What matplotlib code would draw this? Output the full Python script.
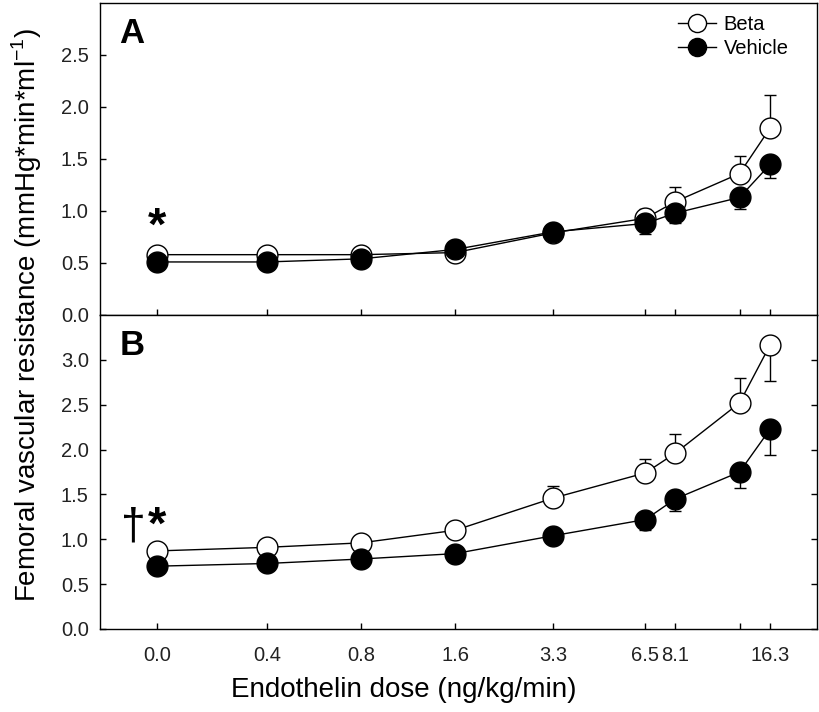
import numpy as np
import matplotlib.pyplot as plt
from matplotlib.ticker import FixedLocator, NullLocator

plt.rcParams['font.family'] = ['Liberation Sans', 'DejaVu Sans']

# dose axis (ng/kg/min); the zero dose is drawn at a stand-in position on the log axis
doses = [0.0, 0.4, 0.8, 1.6, 3.3, 6.5, 8.1, 13.0, 16.3]
dose_labels = ['0.0', '0.4', '0.8', '1.6', '3.3', '6.5', '8.1', '', '16.3']
zero_pos = 0.178

# panel A
a_beta = [0.58, 0.58, 0.58, 0.60, 0.79, 0.93, 1.09, 1.36, 1.80]
a_beta_up = [0.03, 0.03, 0.03, 0.03, 0.03, 0.09, 0.14, 0.17, 0.32]
a_beta_dn = [0, 0, 0, 0, 0, 0, 0, 0, 0]
a_veh = [0.51, 0.51, 0.54, 0.63, 0.80, 0.88, 0.98, 1.13, 1.45]
a_veh_dn = [0.03, 0.03, 0.03, 0.03, 0.03, 0.10, 0.10, 0.11, 0.13]

# panel B
b_beta = [0.87, 0.91, 0.96, 1.10, 1.46, 1.74, 1.96, 2.52, 3.17]
b_beta_up = [0.03, 0.03, 0.03, 0.03, 0.13, 0.16, 0.21, 0.28, 0]
b_beta_dn = [0, 0, 0, 0, 0, 0, 0, 0, 0.41]
b_veh = [0.70, 0.73, 0.78, 0.84, 1.04, 1.22, 1.45, 1.75, 2.23]
b_veh_dn = [0.03, 0.03, 0.03, 0.03, 0.03, 0.12, 0.14, 0.18, 0.29]

xpos = [zero_pos if d == 0 else d for d in doses]


def panel(ax, beta, beta_dn, beta_up, veh, veh_dn, ymax, yticks, letter):
    eb1 = ax.errorbar(xpos, beta, yerr=[beta_dn, beta_up], fmt='-o', color='black',
                      mfc='white', mec='black', ms=15, mew=1.0, lw=1.0,
                      elinewidth=1.0, capsize=4.5, capthick=1.0, zorder=3)
    eb2 = ax.errorbar(xpos, veh, yerr=[veh_dn, [0] * len(veh)], fmt='-o', color='black',
                      mfc='black', mec='black', ms=15, mew=1.0, lw=1.0,
                      elinewidth=1.0, capsize=4.5, capthick=1.0, zorder=4)
    ax.set_xscale('log', base=2)
    ax.set_xlim(0.117, 23.0)
    ax.xaxis.set_major_locator(FixedLocator(xpos))
    ax.xaxis.set_minor_locator(NullLocator())
    ax.set_ylim(0, ymax)
    ax.set_yticks(yticks)
    ax.set_yticklabels(['%.1f' % t for t in yticks])
    ax.tick_params(direction='in', length=4, width=1, labelsize=14.5,
                   labelcolor='#222222')
    ax.tick_params(axis='y', pad=8)
    for s in ax.spines.values():
        s.set_linewidth(1.0)
    ax.text(0.027, 0.955, letter, transform=ax.transAxes, fontsize=25,
            fontweight='bold', va='top', ha='left')
    return eb1.lines[0], eb2.lines[0]


fig = plt.figure(figsize=(8.19, 7.12), dpi=100)
ax1 = fig.add_axes([0.122, 0.5576, 0.8756, 0.4382])
ax2 = fig.add_axes([0.122, 0.1166, 0.8756, 0.4410])

h_beta, h_veh = panel(ax1, a_beta, a_beta_dn, a_beta_up, a_veh, a_veh_dn, 3.0,
                      [0.0, 0.5, 1.0, 1.5, 2.0, 2.5], 'A')
ax1.set_xticklabels([])
ax1.text(zero_pos, 0.84, '*', fontsize=34, fontweight='bold', ha='center', va='center')
ax1.legend([h_beta, h_veh], ['Beta', 'Vehicle'], loc='upper right', frameon=False,
           fontsize=14.5, handlelength=1.9, handletextpad=0.35, labelspacing=0.25,
           markerscale=0.87, borderaxespad=0.2, bbox_to_anchor=(0.977, 1.0))

panel(ax2, b_beta, b_beta_dn, b_beta_up, b_veh, b_veh_dn, 3.5,
      [0.0, 0.5, 1.0, 1.5, 2.0, 2.5, 3.0], 'B')
ax2.set_xticklabels(dose_labels)
ax2.tick_params(axis='x', pad=12)
ax2.tick_params(axis='y', right=True)
ax2.annotate('\u2020', (zero_pos, 1.14), xytext=(-17, 0), textcoords='offset points',
             fontsize=32, ha='center', va='center')
ax2.annotate('*', (zero_pos, 1.14), xytext=(0, 0), textcoords='offset points',
             fontsize=34, fontweight='bold', ha='center', va='center')

fig.text(404 / 819, 1 - 690 / 712, 'Endothelin dose (ng/kg/min)', fontsize=20,
         ha='center', va='center')
fig.text(27 / 819, 1 - 315 / 712,
         r'Femoral vascular resistance (mmHg*min*ml$^{\mathregular{-1}}$)',
         fontsize=20, rotation=90, ha='center', va='center')

fig.savefig('out.png', dpi=100)
